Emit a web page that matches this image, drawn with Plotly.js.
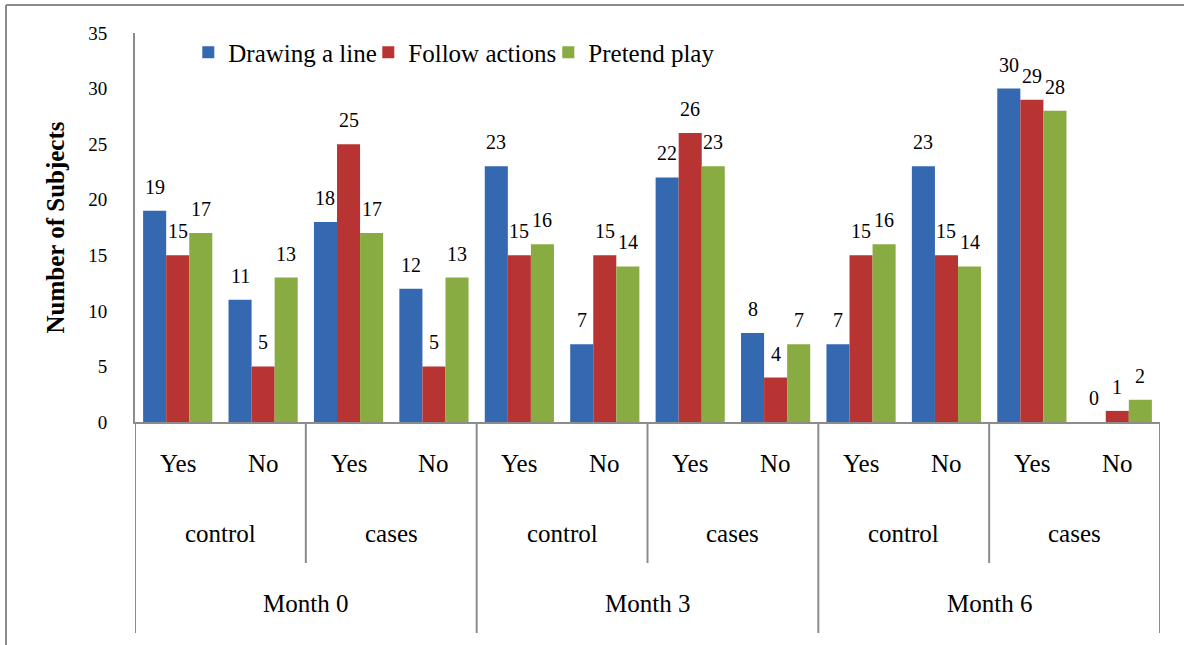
<!DOCTYPE html>
<html><head><meta charset="utf-8">
<script src="https://cdn.plot.ly/plotly-3.0.1.min.js"></script>
<style>body{margin:0} .c{position:absolute;left:0;top:0;width:1184px;height:645px}</style></head>
<body>
<div id="chart" class="c"></div>
<script>
// ---- data ----
const months = ['Month 0', 'Month 3', 'Month 6'];
const groups = ['control', 'cases'];
const answers = ['Yes', 'No'];
const seriesNames = ['Drawing a line', 'Follow actions', 'Pretend play'];
const drawingLine   = [19, 11, 18, 12, 23, 7, 22, 8, 7, 23, 30, 0];
const followActions = [15, 5, 25, 5, 15, 15, 26, 4, 15, 15, 29, 1];
const pretendPlay   = [17, 13, 17, 13, 16, 14, 23, 7, 16, 14, 28, 2];
const seriesColors = ['#3468b0', '#b73432', '#89ac42'];

(function () {
  const F = 'Liberation Serif';
  const mg = {l: 135, r: 24, t: 33, b: 223};
  const pw = 1184 - mg.l - mg.r, ph = 645 - mg.t - mg.b;
  const gap = 0.19;
  const lc = '#8c8c8c';
  const series = [drawingLine, followActions, pretendPlay];
  const nCat = months.length * groups.length * answers.length;
  const xs = [];
  for (let i = 0; i < nCat; i++) xs.push(i);

  const tr = series.map(function (vals, s) {
    return {type: 'bar', name: seriesNames[s], x: xs, y: vals,
            marker: {color: seriesColors[s]}, hoverinfo: 'skip'};
  });

  const ann = [];
  const bw = (1 - gap) / series.length;
  series.forEach(function (vals, s) {
    const off = (s - (series.length - 1) / 2) * bw;
    vals.forEach(function (v, i) {
      ann.push({x: i + off, y: v, text: String(v), showarrow: false,
                yanchor: 'middle', yshift: 24,
                font: {family: F, size: 20, color: '#000'}});
    });
  });

  const py = function (px) { return -(px - (mg.t + ph)) / ph; };
  const pxx = function (px) { return (px - mg.l) / pw; };
  const per = groups.length * answers.length;
  let k = 0;
  months.forEach(function (m, mi) {
    groups.forEach(function (g, gi) {
      answers.forEach(function (a) {
        ann.push({x: k, y: py(463), yref: 'paper', text: a, showarrow: false,
                  yanchor: 'middle', font: {family: F, size: 25, color: '#000'}});
        k++;
      });
      ann.push({x: (mi * groups.length + gi) * answers.length + (answers.length - 1) / 2,
                y: py(533), yref: 'paper', text: g, showarrow: false,
                yanchor: 'middle', font: {family: F, size: 25, color: '#000'}});
    });
    ann.push({x: mi * per + (per - 1) / 2, y: py(603), yref: 'paper', text: m,
              showarrow: false, yanchor: 'middle',
              font: {family: F, size: 25, color: '#000'}});
  });

  const shp = [];
  for (let j = 0; j <= months.length; j++) {
    shp.push({type: 'line', xref: 'x', yref: 'paper', x0: j * per - 0.5, x1: j * per - 0.5,
              y0: 0, y1: py(633), line: {color: lc, width: 2}});
  }
  months.forEach(function (m, mi) {
    for (let g = 1; g < groups.length; g++) {
      const xb = mi * per + g * answers.length - 0.5;
      shp.push({type: 'line', xref: 'x', yref: 'paper', x0: xb, x1: xb,
                y0: 0, y1: py(563), line: {color: lc, width: 2}});
    }
  });
  // outer chart frame (left and top edges)
  shp.push({type: 'line', xref: 'paper', yref: 'paper', x0: pxx(6), x1: pxx(6),
            y0: py(5), y1: py(660), line: {color: '#8a8a8a', width: 2}});
  shp.push({type: 'line', xref: 'paper', yref: 'paper', x0: pxx(6), x1: pxx(1200),
            y0: py(5), y1: py(5), line: {color: '#8a8a8a', width: 2}});

  const lay = {
    width: 1184, height: 645, margin: mg,
    barmode: 'group', bargap: gap, bargroupgap: 0,
    showlegend: true,
    legend: {orientation: 'h', x: 0.052, xanchor: 'left', y: 0.95, yanchor: 'middle',
             font: {family: F, size: 25, color: '#000'}, entrywidth: 135,
             bgcolor: 'rgba(0,0,0,0)'},
    xaxis: {range: [-0.5, nCat - 0.5], showticklabels: false, showgrid: false,
            zeroline: false, showline: true, linecolor: lc, linewidth: 2, ticks: ''},
    yaxis: {range: [0, 35], dtick: 5, tick0: 0, showgrid: false, zeroline: false,
            showline: true, linecolor: lc, linewidth: 2, ticks: '',
            ticklabelstandoff: 22,
            tickfont: {family: F, size: 19, color: '#000'},
            title: {text: 'Number of Subjects', standoff: 16,
                    font: {family: F, size: 25, color: '#000', weight: 'bold'}}},
    annotations: ann,
    shapes: shp
  };
  Plotly.newPlot('chart', tr, lay, {staticPlot: true});
})();
</script>
</body></html>
